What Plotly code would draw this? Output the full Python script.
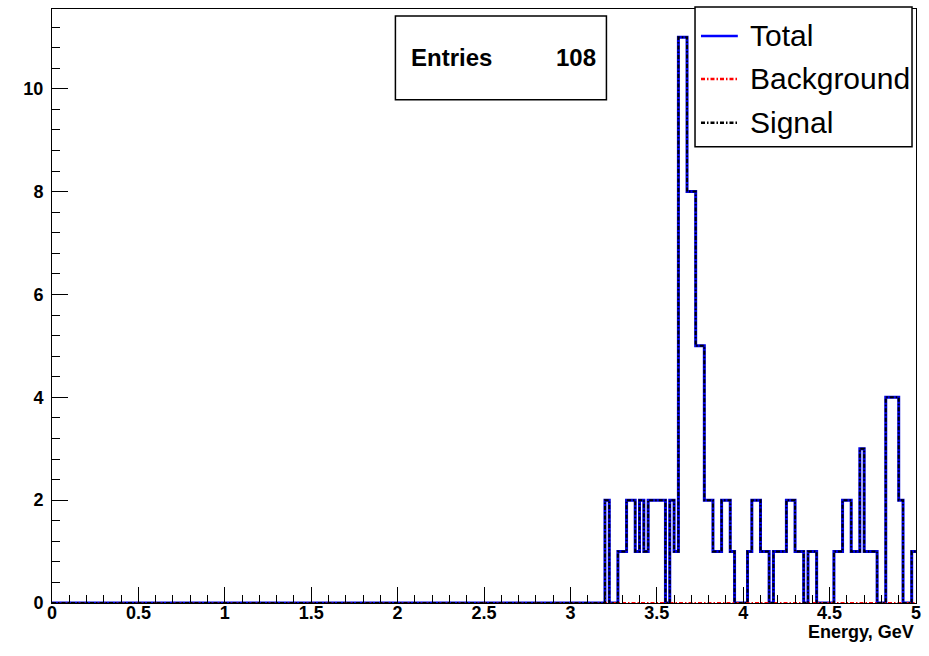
import numpy as np
import plotly.graph_objects as go

# ---- data (bin width 0.025 GeV, 200 bins from 0 to 5) ----
bin_width = 0.025
n_bins = 200
x_min, x_max = 0.0, 5.0

# lower edges of the non-empty bins and their counts
bin_low = [3.200, 3.275, 3.300, 3.325, 3.350, 3.375, 3.400, 3.425,
           3.450, 3.475, 3.500, 3.525, 3.575, 3.600,
           3.625, 3.650, 3.675, 3.700, 3.725, 3.750, 3.775, 3.800,
           3.825, 3.850, 3.875, 3.900, 3.925,
           4.025, 4.050, 4.075, 4.100, 4.125, 4.175, 4.200, 4.225,
           4.250, 4.275, 4.300, 4.325, 4.375, 4.400,
           4.525, 4.550, 4.575, 4.600, 4.625, 4.650, 4.675,
           4.700, 4.725, 4.750, 4.825, 4.850, 4.875, 4.900, 4.975]
total_counts = [2, 1, 1, 2, 2, 1, 2, 1,
                2, 2, 2, 2, 2, 1,
                11, 11, 8, 8, 5, 5, 2, 2,
                1, 1, 2, 2, 1,
                1, 2, 2, 1, 1, 1, 1, 1,
                2, 2, 1, 1, 1, 1,
                1, 1, 2, 2, 1, 1, 3,
                1, 1, 1, 4, 4, 4, 2, 1]
signal_counts = list(total_counts)          # background is empty
n_entries = 108

x_ticks_major = 0.5
y_ticks_major = 2
x_title = "Energy, GeV"
legend_labels = ["Total", "Background", "Signal"]

# ---- build histograms ----
edges = np.round(np.linspace(x_min, x_max, n_bins + 1), 6)
h_total = np.zeros(n_bins)
h_signal = np.zeros(n_bins)
h_back = np.zeros(n_bins)
for lo, t, s in zip(bin_low, total_counts, signal_counts):
    i = int(round((lo - x_min) / bin_width))
    h_total[i] = t
    h_signal[i] = s
y_max = 1.05 * h_total.max()


def step(h):
    return list(h) + [h[-1]]


DASH = "4px,2px,1.5px,2px"

fig = go.Figure()
fig.add_trace(go.Scatter(x=edges, y=step(h_total), mode="lines", line_shape="hv",
                         line=dict(color="#0000e0", width=3), name=legend_labels[0],
                         showlegend=False))
fig.add_trace(go.Scatter(x=edges, y=step(h_back), mode="lines", line_shape="hv",
                         line=dict(color="#ff0000", width=2, dash=DASH),
                         name=legend_labels[1], showlegend=False))
fig.add_trace(go.Scatter(x=edges, y=step(h_signal), mode="lines", line_shape="hv",
                         line=dict(color="#000000", width=2, dash=DASH),
                         name=legend_labels[2], showlegend=False))

font_b = dict(family="Liberation Sans, Arial, sans-serif", size=18, color="black", weight="bold")

fig.update_xaxes(range=[x_min, x_max], dtick=x_ticks_major, tick0=0,
                 showgrid=False, zeroline=False,
                 showline=True, linecolor="black", linewidth=1, mirror=True,
                 ticks="inside", ticklen=16, tickwidth=1, tickcolor="black",
                 minor=dict(dtick=0.1, tick0=0, ticks="inside", ticklen=8,
                            tickcolor="black", tickwidth=1, showgrid=False),
                 tickfont=font_b, ticklabelstandoff=-7)
fig.update_yaxes(range=[0, y_max], dtick=y_ticks_major, tick0=0,
                 showgrid=False, zeroline=False,
                 showline=True, linecolor="black", linewidth=1, mirror=True,
                 ticks="inside", ticklen=16, tickwidth=1, tickcolor="black",
                 minor=dict(dtick=0.4, tick0=0, ticks="inside", ticklen=8,
                            tickcolor="black", tickwidth=1, showgrid=False),
                 tickfont=font_b, ticklabelstandoff=4)

L, R, T, B = 52, 9, 8, 53
W, H = 929, 656
pw, ph = W - L - R, H - T - B


def px(x):
    return (x - L) / pw


def py(y):
    return (H - B - y) / ph


shapes = []
annotations = []

# stats box
shapes.append(dict(type="rect", xref="paper", yref="paper",
                   x0=px(397), x1=px(609), y0=py(99), y1=py(15),
                   line=dict(color="black", width=1.5), fillcolor="white", layer="above"))
annotations.append(dict(xref="paper", yref="paper", x=px(411), y=py(57), text="Entries",
                        showarrow=False, xanchor="left", yanchor="middle",
                        font=dict(family="Liberation Sans, Arial", size=24, color="black", weight="bold")))
annotations.append(dict(xref="paper", yref="paper", x=px(601), y=py(57), text=str(n_entries),
                        showarrow=False, xanchor="right", yanchor="middle",
                        font=dict(family="Liberation Sans, Arial", size=24, color="black", weight="bold")))

# legend box
shapes.append(dict(type="rect", xref="paper", yref="paper",
                   x0=px(698), x1=px(916), y0=py(146), y1=py(6),
                   line=dict(color="black", width=1.5), fillcolor="white", layer="above"))
leg_y = [35, 78, 122]
leg_style = [dict(color="#0000ff", width=2.5),
             dict(color="#ff0000", width=2.5, dash=DASH),
             dict(color="#000000", width=2.5, dash=DASH)]
for lab, yy, st in zip(legend_labels, leg_y, leg_style):
    shapes.append(dict(type="line", xref="paper", yref="paper",
                       x0=px(704), x1=px(741), y0=py(yy), y1=py(yy), line=st, layer="above"))
    annotations.append(dict(xref="paper", yref="paper", x=px(751), y=py(yy), text=lab,
                            showarrow=False, xanchor="left", yanchor="middle",
                            font=dict(family="Liberation Sans, Arial", size=30, color="black")))

# x axis title
annotations.append(dict(xref="paper", yref="paper", x=px(920), y=py(632), text=x_title,
                        showarrow=False, xanchor="right", yanchor="middle", font=font_b))

fig.update_layout(width=W, height=H, margin=dict(l=L, r=R, t=T, b=B),
                  paper_bgcolor="white", plot_bgcolor="white",
                  shapes=shapes, annotations=annotations, showlegend=False)

fig.write_html("out.html")
